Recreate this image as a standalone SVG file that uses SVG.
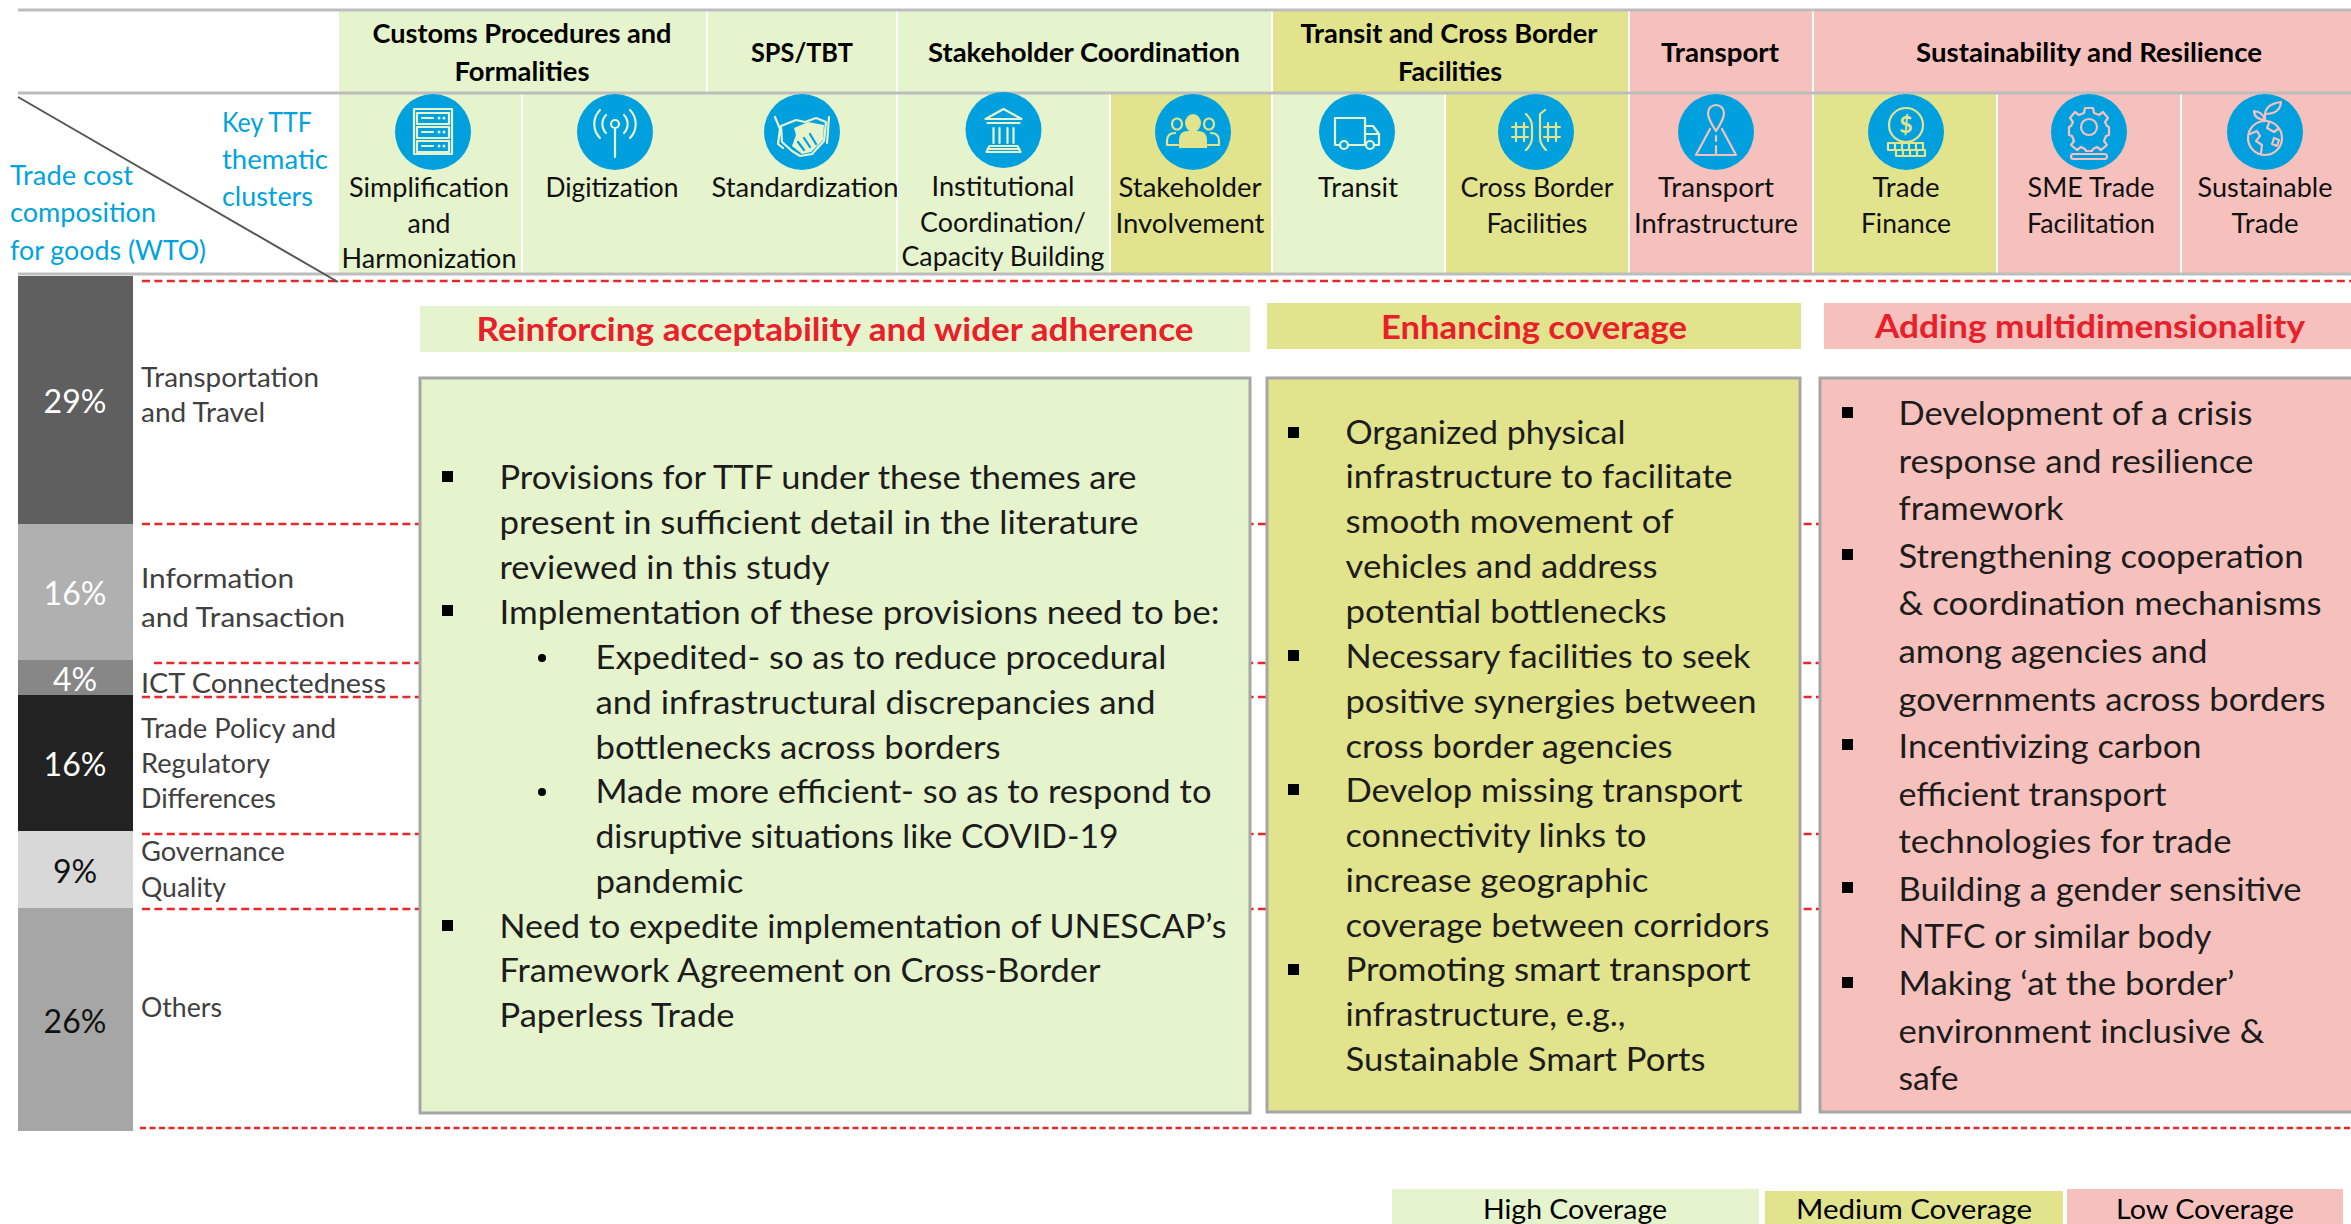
<svg xmlns="http://www.w3.org/2000/svg" width="2351" height="1224" viewBox="0 0 2351 1224">
<style>
text{font-family:Lato,"Liberation Sans",sans-serif;fill:#111;}
.h{font-size:27px;font-weight:700;text-anchor:middle;fill:#000}
.l{font-size:27px;text-anchor:middle}
.b{font-size:27px;fill:#00A3DD}
.p{font-size:32px;text-anchor:middle;fill:#fff}
.r{font-size:26px;fill:#404040}
.s{font-size:33px;font-weight:700;text-anchor:middle;fill:#E8202A}
.t{font-size:33px;fill:#1c1c1c}
.k{font-size:27px;text-anchor:middle;fill:#000}
.G{fill:#E6F4CE}.Y{fill:#E2E38D}.P{fill:#F6C1BD}
.box{stroke:#A6A6A6;stroke-width:3}
.gl{stroke:#BDBDBD;stroke-width:3;fill:none}
.wl{stroke:#fff;stroke-width:2;fill:none}
.dash{stroke:#E6282A;stroke-width:2.5;stroke-dasharray:8 4.4;fill:none}
.circ{fill:#00A0DF}
.ic{fill:none;stroke:currentColor;stroke-width:2.2;stroke-linecap:round;stroke-linejoin:round}
.ic .f{fill:currentColor;stroke:none}
.cg{color:#E6F4CE}.cy{color:#E2E38D}.cp{color:#F6C1BD}
</style>

<g id="header-bands">
<rect class="G" x="339" y="11" width="933" height="82"/>
<rect class="Y" x="1272" y="11" width="357" height="82"/>
<rect class="P" x="1629" y="11" width="722" height="82"/>
<rect class="G" x="339" y="93" width="771" height="181"/>
<rect class="Y" x="1110" y="93" width="162" height="181"/>
<rect class="G" x="1272" y="93" width="173" height="181"/>
<rect class="Y" x="1445" y="93" width="184" height="181"/>
<rect class="P" x="1629" y="93" width="184" height="181"/>
<rect class="Y" x="1813" y="93" width="184" height="181"/>
<rect class="P" x="1997" y="93" width="354" height="181"/>
<path class="wl" d="M707 11V93M897 11V93M1272 11V93M1629 11V93M1813 11V93M522 93V274M897 93V274M1110 93V274M1272 93V274M1445 93V274M1629 93V274M1813 93V274M1997 93V274M2181 93V274"/>
</g>

<g id="connectors">
<path class="dash" d="M142 281H2351"/>
<path class="dash" d="M142 524H2351"/>
<path class="dash" d="M154 663H2351"/>
<path class="dash" d="M142 697H2351"/>
<path class="dash" d="M142 834H2351"/>
<path class="dash" d="M142 909H2351"/>
<path class="dash" style="stroke-dasharray:6 3.5" d="M140 1128H2351"/>
</g>

<g id="grid-lines">
<path class="gl" d="M18 10H2351M18 93H2351M18 274H2351"/>
<path d="M18 97L338 282" stroke="#555" stroke-width="2" fill="none"/>
</g>

<g id="axis-labels">
<text class="b" x="222" y="132" textLength="90" lengthAdjust="spacingAndGlyphs">Key TTF</text>
<text class="b" x="222" y="169" textLength="106" lengthAdjust="spacingAndGlyphs">thematic</text>
<text class="b" x="222" y="206" textLength="91" lengthAdjust="spacingAndGlyphs">clusters</text>
<text class="b" x="10" y="185" textLength="123" lengthAdjust="spacingAndGlyphs">Trade cost</text>
<text class="b" x="10" y="222" textLength="146" lengthAdjust="spacingAndGlyphs">composition</text>
<text class="b" x="10" y="260" textLength="196" lengthAdjust="spacingAndGlyphs">for goods (WTO)</text>
</g>

<g id="cluster-customs"><text class="h" x="522" y="43" textLength="299" lengthAdjust="spacingAndGlyphs">Customs Procedures and</text><text class="h" x="522" y="81" textLength="135" lengthAdjust="spacingAndGlyphs">Formalities</text></g>
<g id="cluster-sps"><text class="h" x="802" y="62" textLength="102" lengthAdjust="spacingAndGlyphs">SPS/TBT</text></g>
<g id="cluster-stakeholder"><text class="h" x="1084" y="62" textLength="312" lengthAdjust="spacingAndGlyphs">Stakeholder Coordination</text></g>
<g id="cluster-transit"><text class="h" x="1449" y="43" textLength="297" lengthAdjust="spacingAndGlyphs">Transit and Cross Border</text><text class="h" x="1450" y="81" textLength="104" lengthAdjust="spacingAndGlyphs">Facilities</text></g>
<g id="cluster-transport"><text class="h" x="1720" y="62" textLength="118" lengthAdjust="spacingAndGlyphs">Transport</text></g>
<g id="cluster-sustainability"><text class="h" x="2089" y="62" textLength="346" lengthAdjust="spacingAndGlyphs">Sustainability and Resilience</text></g>

<g id="theme-simplification">
<ellipse class="circ" cx="433" cy="132" rx="38" ry="38"/>
<g class="ic cg" transform="translate(433,132)"><rect x="-19" y="-23" width="38" height="45"/><rect x="-16" y="-19" width="32" height="11"/><rect x="-16" y="-5" width="32" height="11"/><rect x="-16" y="9" width="32" height="11"/><path d="M-11-14H0M-11 0H0M-11 14H0"/><circle class="f" cx="6" cy="-14" r="1.5"/><circle class="f" cx="11" cy="-14" r="1.5"/><circle class="f" cx="6" cy="0" r="1.5"/><circle class="f" cx="11" cy="0" r="1.5"/><circle class="f" cx="6" cy="14" r="1.5"/><circle class="f" cx="11" cy="14" r="1.5"/></g>
<text class="l" x="429" y="197" textLength="160" lengthAdjust="spacingAndGlyphs">Simplification</text><text class="l" x="429" y="233" textLength="43" lengthAdjust="spacingAndGlyphs">and</text><text class="l" x="429" y="268" textLength="175" lengthAdjust="spacingAndGlyphs">Harmonization</text>
</g>
<g id="theme-digitization">
<ellipse class="circ" cx="615" cy="132" rx="38" ry="38"/>
<g class="ic cg" transform="translate(615,132)"><circle cx="0" cy="-8" r="4"/><path d="M0-4V25M-9-17A13 13 0 0 0-9 1M9-17A13 13 0 0 1 9 1M-15-22A20 20 0 0 0-15 6M15-22A20 20 0 0 1 15 6"/></g>
<text class="l" x="612" y="197" textLength="133" lengthAdjust="spacingAndGlyphs">Digitization</text>
</g>
<g id="theme-standardization">
<ellipse class="circ" cx="802" cy="132" rx="38" ry="38"/>
<g class="ic cg" transform="translate(802,132)"><path d="M-27-15L-22-3-24 12-19 16M27-15L25 11M-21-6L-6-12 3-10 14-14 24-10 22 9 10 22-2 24-10 19-20 10Z"/><path class="f" d="M-8-4L6-10 22-7 21 8 9 20 0 22-10 14-6 3Z"/><path d="M-4 10L2 18M2 6L8 15M8 2L14 12" stroke="#00A0DF"/></g>
<text class="l" x="805" y="197" textLength="187" lengthAdjust="spacingAndGlyphs">Standardization</text>
</g>
<g id="theme-institutional">
<ellipse class="circ" cx="1003.500" cy="130" rx="38" ry="38"/>
<g class="ic cg" transform="translate(1003.500,130)"><path d="M-18-11L0-21 18-11Z"/><path d="M-16-7H16M-16 19H16M-10-2V13M-4-2V13M4-2V13M10-2V13M-14 16H14L17 22H-17Z"/></g>
<text class="l" x="1003" y="196" textLength="143" lengthAdjust="spacingAndGlyphs">Institutional</text><text class="l" x="1003" y="232" textLength="166" lengthAdjust="spacingAndGlyphs">Coordination/</text><text class="l" x="1003" y="266" textLength="203" lengthAdjust="spacingAndGlyphs">Capacity Building</text>
</g>
<g id="theme-stakeholder">
<ellipse class="circ" cx="1193" cy="132" rx="38" ry="38"/>
<g class="ic cy" transform="translate(1193,132)"><ellipse class="f" cx="0" cy="-9" rx="8" ry="9"/><path class="f" d="M-14 16V8Q-14-1-5-1H5Q14-1 14 8V16Z"/><ellipse cx="-16" cy="-8" rx="5" ry="5.500"/><ellipse cx="16" cy="-8" rx="5" ry="5.500"/><path d="M-15 13H-26V9Q-26 1-18 1M15 13H26V9Q26 1 18 1"/></g>
<text class="l" x="1190" y="197" textLength="143" lengthAdjust="spacingAndGlyphs">Stakeholder</text><text class="l" x="1190" y="233" textLength="149" lengthAdjust="spacingAndGlyphs">Involvement</text>
</g>
<g id="theme-transit">
<ellipse class="circ" cx="1357" cy="132" rx="38" ry="38"/>
<g class="ic cg" transform="translate(1357,132)"><path d="M-17 13H-22V-14H8V13H-8M8-6H16L22 2V13H18M8 13H9M8 2H22"/><circle cx="-13" cy="13" r="4"/><circle cx="13" cy="13" r="4"/></g>
<text class="l" x="1358" y="197" textLength="80" lengthAdjust="spacingAndGlyphs">Transit</text>
</g>
<g id="theme-crossborder">
<ellipse class="circ" cx="1536" cy="132" rx="38" ry="38"/>
<g class="ic cy" transform="translate(1536,132)"><path d="M-24-5H-8M-24 5H-8M-20-9V9M-12-9V9M8-5H24M8 5H24M12-9V9M20-9V9M-10-18Q-4-12-4-6V6Q-4 12-10 18M4-18Q4-10 4-6V6Q4 12 10 18M4-18L9-22"/></g>
<text class="l" x="1537" y="197" textLength="153" lengthAdjust="spacingAndGlyphs">Cross Border</text><text class="l" x="1537" y="233" textLength="101" lengthAdjust="spacingAndGlyphs">Facilities</text>
</g>
<g id="theme-infrastructure">
<ellipse class="circ" cx="1716" cy="132" rx="38" ry="38"/>
<g class="ic cp" transform="translate(1716,132)"><path d="M0-1Q-8-13-8-19A8 8 0 0 1 8-19Q8-13 0-1ZM-6-3L-20 23H20L6-3M0 4V9M0 14V23"/></g>
<text class="l" x="1716" y="197" textLength="116" lengthAdjust="spacingAndGlyphs">Transport</text><text class="l" x="1716" y="233" textLength="164" lengthAdjust="spacingAndGlyphs">Infrastructure</text>
</g>
<g id="theme-finance">
<ellipse class="circ" cx="1906" cy="132" rx="38" ry="38"/>
<g class="ic cy" transform="translate(1906,132)"><circle cx="0" cy="-7" r="17"/><path d="M-18 11H17V18H-18ZM-10 18H19V24H-10Z"/><path d="M-11 11V18M-4 11V18M3 11V18M10 11V18M-3 18V24M4 18V24M11 18V24"/></g>
<text x="1906" y="133" style="font-size:23px;font-weight:700;text-anchor:middle;fill:#E2E38D">$</text>
<text class="l" x="1906" y="197" textLength="67" lengthAdjust="spacingAndGlyphs">Trade</text><text class="l" x="1906" y="233" textLength="90" lengthAdjust="spacingAndGlyphs">Finance</text>
</g>
<g id="theme-sme">
<ellipse class="circ" cx="2089" cy="132" rx="38" ry="38"/>
<g class="ic cp" transform="translate(2089,132)"><circle cx="0" cy="-5" r="8"/><path d="M-4-24H4L5-19 10-17 14-20 19-14 16-10 18-6 20-5V3L17 4 15 9 18 13 12 18 8 15 4 17 3 19H-3L-4 17-8 15-12 18-18 13-15 9-17 4-20 3V-5L-18-6-16-10-19-14-14-20-10-17-5-19Z"/><rect x="-18" y="22" width="36" height="5" rx="2.500"/></g>
<text class="l" x="2091" y="197" textLength="127" lengthAdjust="spacingAndGlyphs">SME Trade</text><text class="l" x="2091" y="233" textLength="128" lengthAdjust="spacingAndGlyphs">Facilitation</text>
</g>
<g id="theme-sustainable">
<ellipse class="circ" cx="2265" cy="132" rx="38" ry="38"/>
<g class="ic cp" transform="translate(2265,132)"><circle cx="0" cy="6" r="17"/><path d="M-15 2L-8-1-5 4-9 9-3 13-4 21M4-9L2-4 9 0 13-3M9 6L14 8 12 14 7 12ZM0-11V-18M0-18Q1-28 16-30 15-18 0-18ZM0-12Q-2-20-11-21-11-13 0-12Z"/></g>
<text class="l" x="2265" y="197" textLength="135" lengthAdjust="spacingAndGlyphs">Sustainable</text><text class="l" x="2265" y="233" textLength="67" lengthAdjust="spacingAndGlyphs">Trade</text>
</g>

<g id="bar-transport"><rect x="18" y="276" width="115" height="248" fill="#5F5F5F"/><text class="p" x="75" y="413">29%</text><text class="r" x="141" y="387" textLength="178" lengthAdjust="spacingAndGlyphs">Transportation</text><text class="r" x="141" y="422" textLength="124" lengthAdjust="spacingAndGlyphs">and Travel</text></g>
<g id="bar-information"><rect x="18" y="524" width="115" height="136" fill="#B0B0B0"/><text class="p" x="75" y="605">16%</text><text class="r" x="141" y="588" textLength="153" lengthAdjust="spacingAndGlyphs">Information</text><text class="r" x="141" y="627" textLength="204" lengthAdjust="spacingAndGlyphs">and Transaction</text></g>
<g id="bar-ict"><rect x="18" y="660" width="115" height="35" fill="#878787"/><text class="p" x="75" y="691">4%</text><text class="r" x="141" y="693" textLength="245" lengthAdjust="spacingAndGlyphs">ICT Connectedness</text></g>
<g id="bar-policy"><rect x="18" y="695" width="115" height="136" fill="#222"/><text class="p" x="75" y="776">16%</text><text class="r" x="141" y="738" textLength="195" lengthAdjust="spacingAndGlyphs">Trade Policy and</text><text class="r" x="141" y="773" textLength="129" lengthAdjust="spacingAndGlyphs">Regulatory</text><text class="r" x="141" y="808" textLength="135" lengthAdjust="spacingAndGlyphs">Differences</text></g>
<g id="bar-governance"><rect x="18" y="831" width="115" height="77" fill="#D8D8D8"/><text class="p" x="75" y="883" style="fill:#111">9%</text><text class="r" x="141" y="861" textLength="144" lengthAdjust="spacingAndGlyphs">Governance</text><text class="r" x="141" y="897" textLength="85" lengthAdjust="spacingAndGlyphs">Quality</text></g>
<g id="bar-others"><rect x="18" y="908" width="115" height="223" fill="#A6A6A6"/><text class="p" x="75" y="1033" style="fill:#111">26%</text><text class="r" x="141" y="1017" textLength="81" lengthAdjust="spacingAndGlyphs">Others</text></g>

<g id="panel-high">
<rect class="G" x="420" y="306" width="830" height="46"/>
<text class="s" x="835" y="341" textLength="717" lengthAdjust="spacingAndGlyphs">Reinforcing acceptability and wider adherence</text>
<rect class="G box" x="420" y="378" width="830" height="735"/>
<rect x="442" y="471" width="11" height="11" fill="#000"/><rect x="442" y="605" width="11" height="11" fill="#000"/><rect x="442" y="920" width="11" height="11" fill="#000"/>
<circle cx="542" cy="658" r="4" fill="#000"/><circle cx="542" cy="792" r="4" fill="#000"/>
<text class="t" x="499.500" y="489" textLength="637" lengthAdjust="spacingAndGlyphs">Provisions for TTF under these themes are</text>
<text class="t" x="499.500" y="534" textLength="639" lengthAdjust="spacingAndGlyphs">present in sufficient detail in the literature</text>
<text class="t" x="499.500" y="579" textLength="330" lengthAdjust="spacingAndGlyphs">reviewed in this study</text>
<text class="t" x="499.500" y="624" textLength="720" lengthAdjust="spacingAndGlyphs">Implementation of these provisions need to be:</text>
<text class="t" x="595.500" y="669" textLength="571" lengthAdjust="spacingAndGlyphs">Expedited- so as to reduce procedural</text>
<text class="t" x="595.500" y="714" textLength="560" lengthAdjust="spacingAndGlyphs">and infrastructural discrepancies and</text>
<text class="t" x="595.500" y="759" textLength="405" lengthAdjust="spacingAndGlyphs">bottlenecks across borders</text>
<text class="t" x="595.500" y="803" textLength="616" lengthAdjust="spacingAndGlyphs">Made more efficient- so as to respond to</text>
<text class="t" x="595.500" y="848" textLength="523" lengthAdjust="spacingAndGlyphs">disruptive situations like COVID-19</text>
<text class="t" x="595.500" y="893" textLength="148" lengthAdjust="spacingAndGlyphs">pandemic</text>
<text class="t" x="499.500" y="938" textLength="727" lengthAdjust="spacingAndGlyphs">Need to expedite implementation of UNESCAP’s</text>
<text class="t" x="499.500" y="982" textLength="601" lengthAdjust="spacingAndGlyphs">Framework Agreement on Cross-Border</text>
<text class="t" x="499.500" y="1027" textLength="235" lengthAdjust="spacingAndGlyphs">Paperless Trade</text>
</g>

<g id="panel-medium">
<rect class="Y" x="1267" y="303" width="534" height="46"/>
<text class="s" x="1534" y="339" textLength="306" lengthAdjust="spacingAndGlyphs">Enhancing coverage</text>
<rect class="Y box" x="1267" y="378" width="533" height="734"/>
<rect x="1288" y="427" width="11" height="11" fill="#000"/><rect x="1288" y="650" width="11" height="11" fill="#000"/><rect x="1288" y="784" width="11" height="11" fill="#000"/><rect x="1288" y="964" width="11" height="11" fill="#000"/>
<text class="t" x="1345.500" y="444" textLength="280" lengthAdjust="spacingAndGlyphs">Organized physical</text>
<text class="t" x="1345.500" y="488" textLength="387" lengthAdjust="spacingAndGlyphs">infrastructure to facilitate</text>
<text class="t" x="1345.500" y="533" textLength="328" lengthAdjust="spacingAndGlyphs">smooth movement of</text>
<text class="t" x="1345.500" y="578" textLength="312" lengthAdjust="spacingAndGlyphs">vehicles and address</text>
<text class="t" x="1345.500" y="623" textLength="321" lengthAdjust="spacingAndGlyphs">potential bottlenecks</text>
<text class="t" x="1345.500" y="668" textLength="405" lengthAdjust="spacingAndGlyphs">Necessary facilities to seek</text>
<text class="t" x="1345.500" y="713" textLength="411" lengthAdjust="spacingAndGlyphs">positive synergies between</text>
<text class="t" x="1345.500" y="758" textLength="327" lengthAdjust="spacingAndGlyphs">cross border agencies</text>
<text class="t" x="1345.500" y="802" textLength="397" lengthAdjust="spacingAndGlyphs">Develop missing transport</text>
<text class="t" x="1345.500" y="847" textLength="301" lengthAdjust="spacingAndGlyphs">connectivity links to</text>
<text class="t" x="1345.500" y="892" textLength="303" lengthAdjust="spacingAndGlyphs">increase geographic</text>
<text class="t" x="1345.500" y="937" textLength="424" lengthAdjust="spacingAndGlyphs">coverage between corridors</text>
<text class="t" x="1345.500" y="981" textLength="405" lengthAdjust="spacingAndGlyphs">Promoting smart transport</text>
<text class="t" x="1345.500" y="1026" textLength="280" lengthAdjust="spacingAndGlyphs">infrastructure, e.g.,</text>
<text class="t" x="1345.500" y="1071" textLength="360" lengthAdjust="spacingAndGlyphs">Sustainable Smart Ports</text>
</g>

<g id="panel-low">
<rect class="P" x="1824" y="303" width="527" height="46"/>
<text class="s" x="2090" y="338" textLength="430" lengthAdjust="spacingAndGlyphs">Adding multidimensionality</text>
<rect class="P box" x="1820" y="378" width="533" height="734"/>
<rect x="1842" y="407" width="11" height="11" fill="#000"/><rect x="1842" y="549" width="11" height="11" fill="#000"/><rect x="1842" y="739" width="11" height="11" fill="#000"/><rect x="1842" y="882" width="11" height="11" fill="#000"/><rect x="1842" y="977" width="11" height="11" fill="#000"/>
<text class="t" x="1898.500" y="425" textLength="354" lengthAdjust="spacingAndGlyphs">Development of a crisis</text>
<text class="t" x="1898.500" y="473" textLength="355" lengthAdjust="spacingAndGlyphs">response and resilience</text>
<text class="t" x="1898.500" y="520" textLength="165" lengthAdjust="spacingAndGlyphs">framework</text>
<text class="t" x="1898.500" y="568" textLength="405" lengthAdjust="spacingAndGlyphs">Strengthening cooperation</text>
<text class="t" x="1898.500" y="615" textLength="423" lengthAdjust="spacingAndGlyphs">&amp; coordination mechanisms</text>
<text class="t" x="1898.500" y="663" textLength="309" lengthAdjust="spacingAndGlyphs">among agencies and</text>
<text class="t" x="1898.500" y="711" textLength="427" lengthAdjust="spacingAndGlyphs">governments across borders</text>
<text class="t" x="1898.500" y="758" textLength="303" lengthAdjust="spacingAndGlyphs">Incentivizing carbon</text>
<text class="t" x="1898.500" y="806" textLength="268" lengthAdjust="spacingAndGlyphs">efficient transport</text>
<text class="t" x="1898.500" y="853" textLength="333" lengthAdjust="spacingAndGlyphs">technologies for trade</text>
<text class="t" x="1898.500" y="901" textLength="403" lengthAdjust="spacingAndGlyphs">Building a gender sensitive</text>
<text class="t" x="1898.500" y="948" textLength="313" lengthAdjust="spacingAndGlyphs">NTFC or similar body</text>
<text class="t" x="1898.500" y="995" textLength="336" lengthAdjust="spacingAndGlyphs">Making ‘at the border’</text>
<text class="t" x="1898.500" y="1043" textLength="366" lengthAdjust="spacingAndGlyphs">environment inclusive &amp;</text>
<text class="t" x="1898.500" y="1090" textLength="60" lengthAdjust="spacingAndGlyphs">safe</text>
</g>

<g id="legend">
<rect class="G" x="1392" y="1189" width="367" height="35"/><text class="k" x="1575" y="1219" textLength="184" lengthAdjust="spacingAndGlyphs">High Coverage</text>
<rect class="Y" x="1765" y="1191" width="298" height="33"/><text class="k" x="1914" y="1219" textLength="236" lengthAdjust="spacingAndGlyphs">Medium Coverage</text>
<rect class="P" x="2067" y="1189" width="276" height="35"/><text class="k" x="2205" y="1219" textLength="178" lengthAdjust="spacingAndGlyphs">Low Coverage</text>
</g>
</svg>
